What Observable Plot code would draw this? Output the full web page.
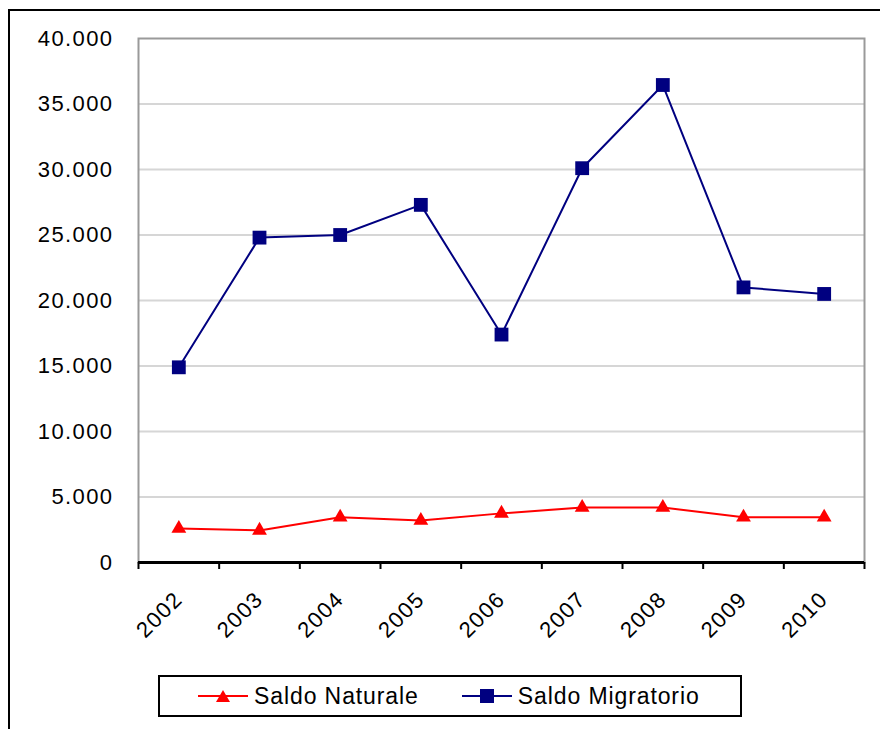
<!DOCTYPE html>
<html>
<head>
<meta charset="utf-8">
<script src="https://cdn.jsdelivr.net/npm/d3@7"></script>
<script src="https://cdn.jsdelivr.net/npm/@observablehq/plot@0.6"></script>
<style>
  html, body { margin: 0; padding: 0; background: white; }
  body { width: 880px; height: 729px; position: relative; overflow: hidden; font-family: "Liberation Sans", Arial, sans-serif; }
  #chart { position: absolute; left: 0; top: 0; }
  #frame { position: absolute; left: 8px; top: 9px; right: -10px; bottom: -10px; border-left: 2px solid #000; border-top: 2px solid #000; pointer-events: none; }
  #legend { position: absolute; left: 158px; top: 675px; width: 580px; height: 38px; border: 2px solid #000; background: white; display: flex; align-items: center; }
  .item { display: flex; align-items: center; font-size: 23px; letter-spacing: 0.9px; color: #000; }
  .item svg { margin-right: 6px; }
</style>
</head>
<body>
<div id="chart"></div>
<div id="frame"></div>
<div id="legend"></div>
<script>
const years = [2002, 2003, 2004, 2005, 2006, 2007, 2008, 2009, 2010];
const saldoNaturale = [2600, 2450, 3450, 3200, 3750, 4200, 4200, 3450, 3450];
const saldoMigratorio = [14900, 24800, 25000, 27300, 17400, 30100, 36450, 21000, 20500];
const yTicks = [0, 5000, 10000, 15000, 20000, 25000, 30000, 35000, 40000];
const seriesNames = ["Saldo Naturale", "Saldo Migratorio"];
const seriesColors = ["#ff0000", "#000080"];

const rows = years.map((y, i) => ({year: y, naturale: saldoNaturale[i], migratorio: saldoMigratorio[i]}));
const bounds = [years[0] - 0.5, ...years.map(y => y + 0.5)];
const itFmt = d3.formatLocale({decimal: ",", thousands: ".", grouping: [3], currency: ["€", ""]}).format(",");

const chart = Plot.plot({
  width: 880,
  height: 660,
  marginLeft: 138,
  marginRight: 16,
  marginTop: 38,
  marginBottom: 98,
  style: {fontFamily: "'Liberation Sans', Arial, sans-serif", fontSize: "22px", letterSpacing: "1.4px", color: "#000", background: "white", overflow: "visible"},
  x: {domain: [bounds[0], bounds[bounds.length - 1]]},
  y: {domain: [0, 40000]},
  marks: [
    Plot.gridY(yTicks.filter(v => v > 0 && v < 40000), {stroke: "#d6d6d6", strokeOpacity: 1, strokeWidth: 2}),
    Plot.frame({stroke: "#9a9a9a", strokeWidth: 2}),
    Plot.axisY({ticks: yTicks, tickSize: 0, tickPadding: 25, tickFormat: itFmt, fontSize: 22, label: null}),
    Plot.axisX({ticks: bounds, tickSize: 7, tickFormat: () => "", stroke: "#000", strokeWidth: 2, label: null}),
    Plot.axisX({ticks: years, tickSize: 0, tickPadding: 33, tickRotate: -45, tickFormat: d => String(d), fontSize: 22, label: null}),
    Plot.ruleY([0], {stroke: "#000", strokeWidth: 3}),
    Plot.line(rows, {x: "year", y: "naturale", stroke: seriesColors[0], strokeWidth: 2}),
    Plot.dot(rows, {x: "year", y: "naturale", symbol: "triangle", fill: seriesColors[0], r: 5.5}),
    Plot.line(rows, {x: "year", y: "migratorio", stroke: seriesColors[1], strokeWidth: 2}),
    Plot.dot(rows, {x: "year", y: "migratorio", symbol: "square", fill: seriesColors[1], r: 7.8})
  ]
});
document.getElementById("chart").appendChild(chart);

// legend
const legend = document.getElementById("legend");
const sym = [
  '<polygon points="25,3 32,15 18,15" fill="#ff0000"/>',
  '<rect x="18" y="2" width="14" height="14" fill="#000080"/>'
];
seriesNames.forEach((name, i) => {
  const item = document.createElement("div");
  item.className = "item";
  item.style.marginLeft = (i === 0 ? 38 : 43) + "px";
  item.innerHTML = `<svg width="50" height="18"><line x1="0" x2="50" y1="9" y2="9" stroke="${seriesColors[i]}" stroke-width="2"/>${sym[i]}</svg><span>${name}</span>`;
  legend.appendChild(item);
});
</script>
</body>
</html>
